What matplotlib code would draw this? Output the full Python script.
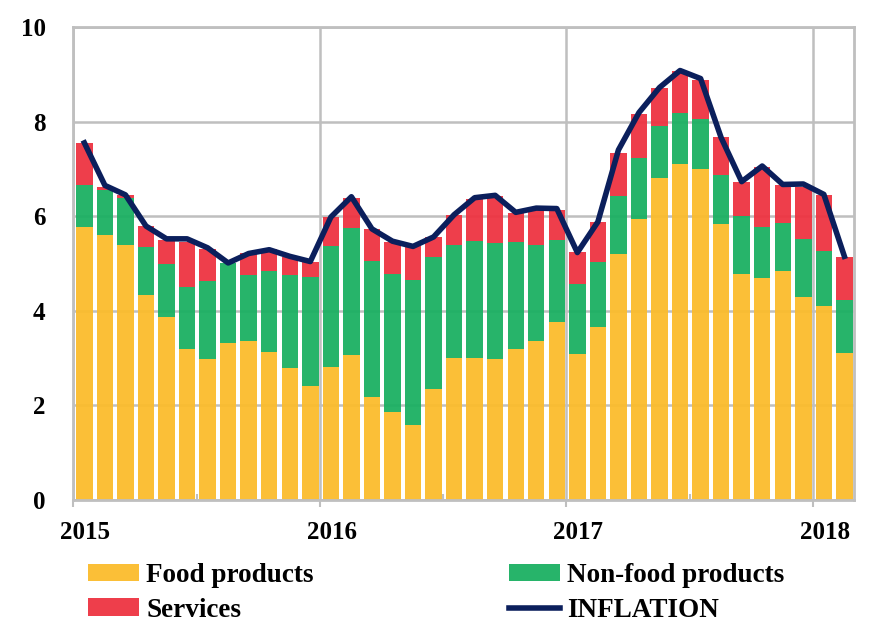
import numpy as np
import matplotlib.pyplot as plt
import matplotlib.transforms as mtransforms

# Contribuições mensais à inflação (p.p.), jan/2015 a fev/2018
food = [5.77, 5.60, 5.38, 4.34, 3.87, 3.19, 2.98, 3.31, 3.35, 3.13, 2.78, 2.40,
        2.81, 3.07, 2.18, 1.86, 1.59, 2.35, 2.99, 3.00, 2.97, 3.19, 3.35, 3.76,
        3.09, 3.66, 5.19, 5.94, 6.80, 7.11, 7.00, 5.83, 4.77, 4.69, 4.85, 4.30,
        4.09, 3.11]
nonfood = [0.89, 0.95, 1.00, 1.01, 1.11, 1.31, 1.64, 1.70, 1.40, 1.71, 1.98, 2.31,
           2.56, 2.67, 2.87, 2.91, 3.05, 2.79, 2.41, 2.48, 2.46, 2.27, 2.03, 1.73,
           1.48, 1.38, 1.23, 1.30, 1.10, 1.08, 1.06, 1.04, 1.23, 1.08, 1.01, 1.22,
           1.17, 1.12]
services = [0.88, 0.07, 0.06, 0.44, 0.52, 0.96, 0.69, 0.00, 0.46, 0.47, 0.37, 0.33,
            0.61, 0.65, 0.67, 0.68, 0.72, 0.41, 0.63, 0.89, 0.99, 0.61, 0.76, 0.65,
            0.67, 0.84, 0.91, 0.93, 0.80, 0.88, 0.83, 0.80, 0.73, 1.27, 0.80, 1.10,
            1.18, 0.90]
inflation = [7.55, 6.65, 6.45, 5.79, 5.52, 5.52, 5.33, 5.01, 5.21, 5.29, 5.15, 5.04,
             5.98, 6.41, 5.73, 5.47, 5.36, 5.56, 6.03, 6.39, 6.44, 6.08, 6.17, 6.16,
             5.23, 5.88, 7.40, 8.19, 8.72, 9.08, 8.91, 7.66, 6.73, 7.06, 6.67, 6.68,
             6.46, 5.15]
anos = ['2015', '2016', '2017', '2018']

c_food = '#FBBC2C'
c_nonfood = '#1BB062'
c_serv = '#EE3341'
c_infl = '#0B1F5C'
cinza = '#BFBFBF'

plt.rcParams['font.family'] = ['Liberation Serif', 'DejaVu Serif']
plt.rcParams['font.weight'] = 'bold'

food = np.array(food)
nonfood = np.array(nonfood)
services = np.array(services)
x = np.arange(len(food)) + 0.53

fig = plt.figure(figsize=(8.79, 6.24), dpi=100)
ax = fig.add_axes([0.0836, 0.199, 0.888, 0.7577])

w = 0.80
ax.bar(x, food, w, color=c_food, alpha=0.95, label='Food products', zorder=2)
ax.bar(x, nonfood, w, bottom=food, color=c_nonfood, alpha=0.95,
       label='Non-food products', zorder=2)
ax.bar(x, services, w, bottom=food + nonfood, color=c_serv, alpha=0.95,
       label='Services', zorder=2)
ax.plot(x, inflation, color=c_infl, lw=4, label='INFLATION', zorder=3)

ax.set_xlim(0, 38)
ax.set_ylim(0, 10)
ax.set_xticks([0, 12, 24, 36])
ax.set_xticklabels(anos)
ax.set_xticks([6, 18, 30], minor=True)
ax.set_yticks([0, 2, 4, 6, 8, 10])
ax.tick_params(axis='both', labelsize=18, colors=cinza, labelcolor='black')
ax.tick_params(axis='x', which='major', length=5, width=1.5, pad=10)
ax.tick_params(axis='x', which='minor', direction='in', length=4, width=1.5,
               color=cinza)
ax.tick_params(axis='y', length=0, pad=20)
# rótulos dos anos deslocados para a barra de janeiro
desloc = mtransforms.ScaledTranslation(12 / 100, 0, fig.dpi_scale_trans)
for lab in ax.get_xticklabels():
    lab.set_transform(lab.get_transform() + desloc)
ax.grid(True, color=cinza, lw=1.8, zorder=1)
ax.set_axisbelow(True)
for s in ax.spines.values():
    s.set_color(cinza)
    s.set_linewidth(2)

h, l = ax.get_legend_handles_labels()
# ordem: Food, Services | Non-food, INFLATION
ordem = [1, 3, 2, 0]
fig.legend([h[i] for i in ordem], [l[i] for i in ordem], ncol=2,
           loc='upper left', bbox_to_anchor=(88 / 879, 1 - 563 / 624),
           frameon=False, fontsize=19.5, handlelength=1.9, handleheight=0.62,
           handletextpad=0.25, columnspacing=7.2, labelspacing=0.36,
           borderpad=0, borderaxespad=0)

plt.savefig('out.png', dpi=100)
